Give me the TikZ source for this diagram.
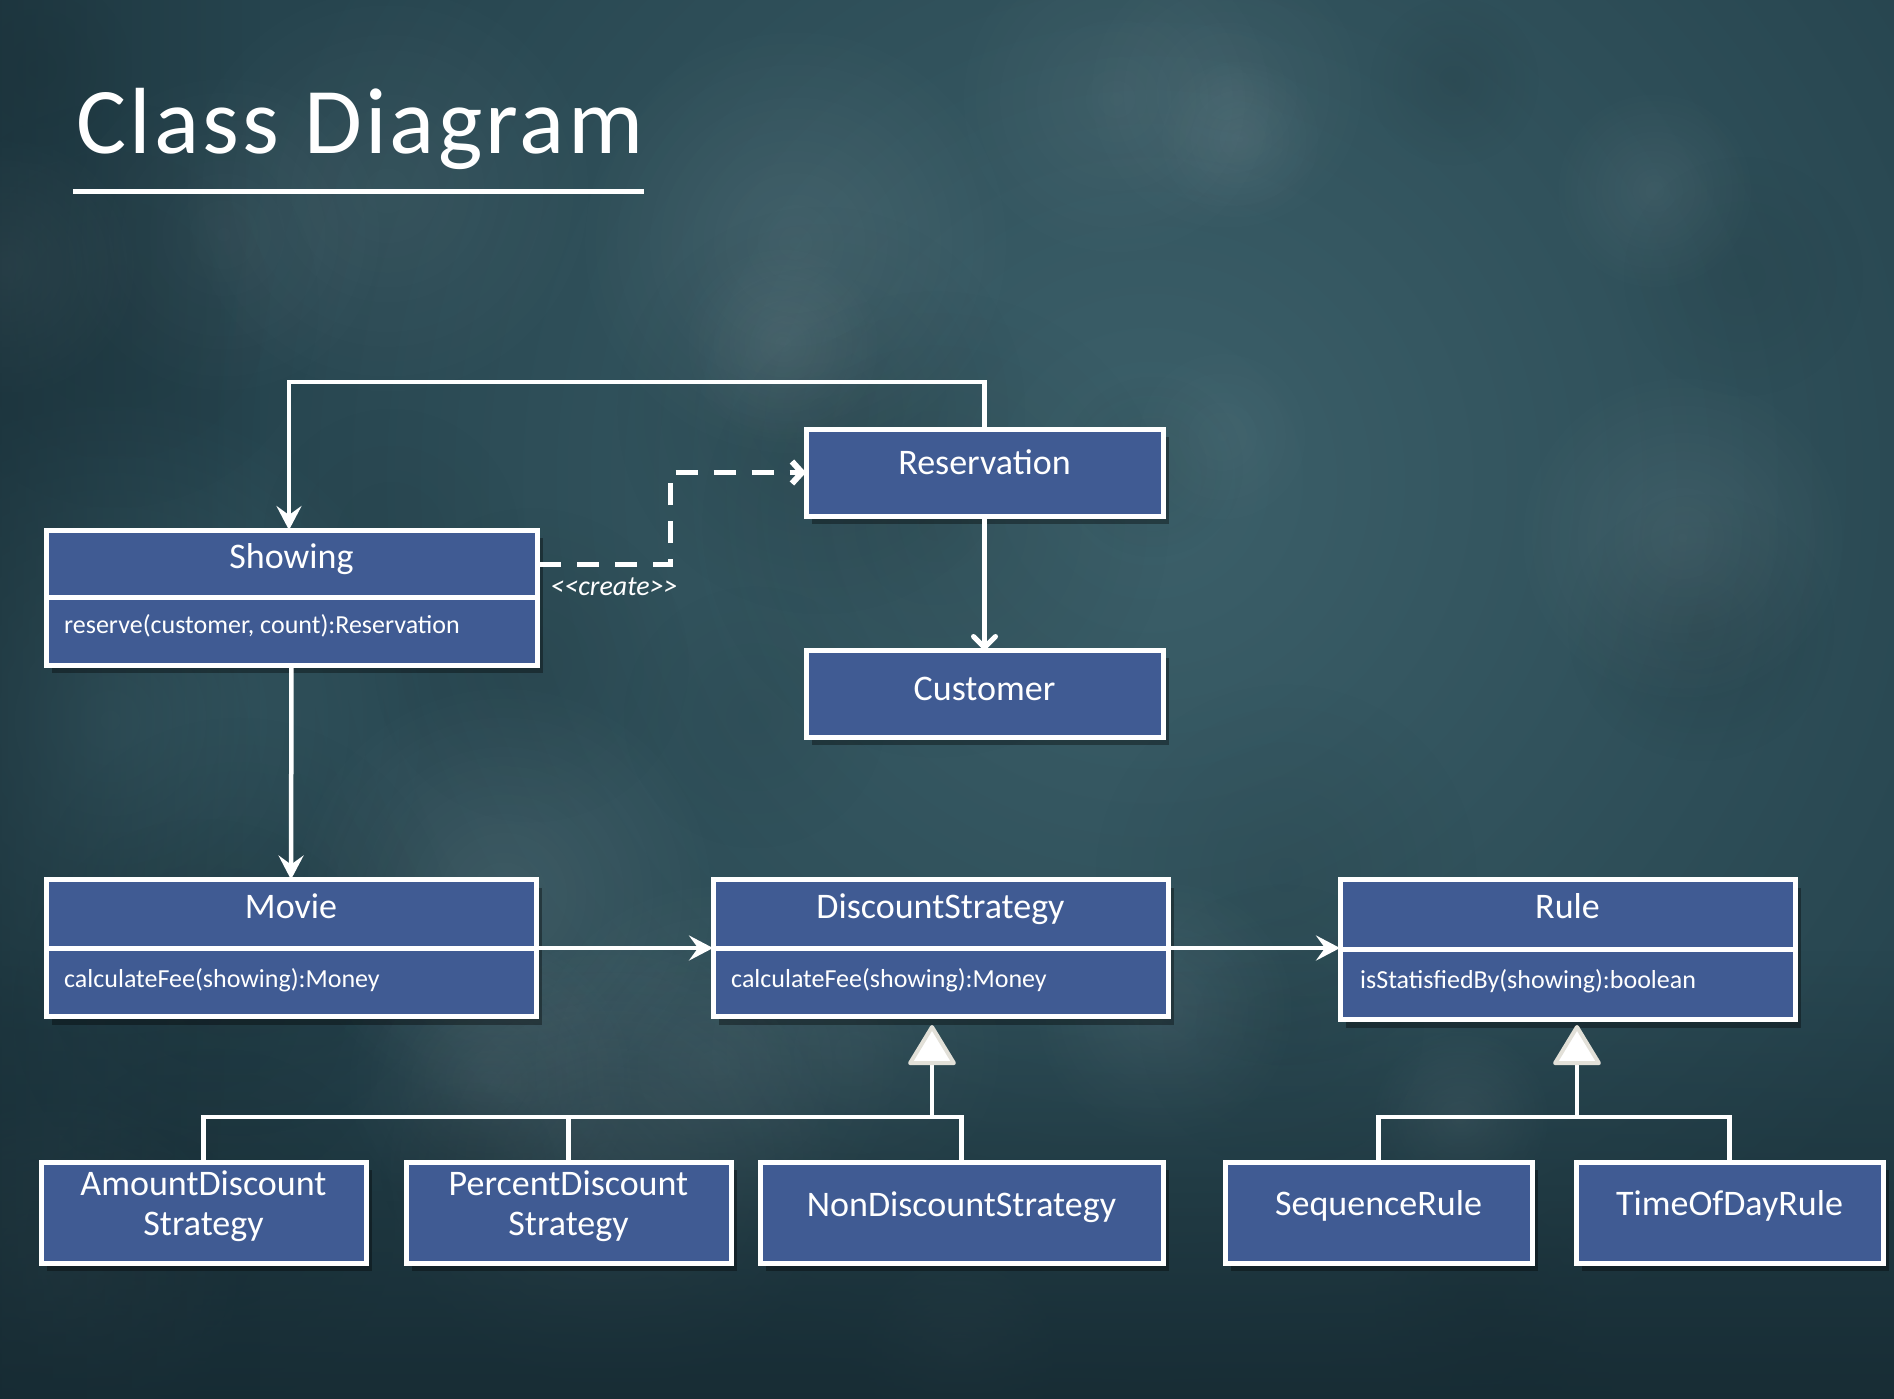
\documentclass[tikz,border=0pt]{standalone}
\usepackage{fontspec}
\setmainfont{Carlito}
\usetikzlibrary{arrows.meta,shadows,calc,fadings}
\definecolor{bgdark}{RGB}{22,42,50}
\definecolor{bgmid}{RGB}{38,68,78}
\definecolor{bglight}{RGB}{60,96,106}
\definecolor{boxblue}{RGB}{64,91,147}
\definecolor{inhfill}{RGB}{226,224,216}
\tikzfading[name=fadetotop, top color=transparent!100, bottom color=transparent!0]
\tikzfading[name=fadetoright, left color=transparent!0, right color=transparent!100]
\tikzfading[name=softblob, inner color=transparent!0, outer color=transparent!100]
\begin{document}
\begin{tikzpicture}[x=1pt,y=-1pt,
  umlbox/.style={draw=white, line width=5pt, fill=boxblue, inner sep=0pt, outer sep=0pt,
    drop shadow={shadow xshift=6pt, shadow yshift=-8pt, opacity=0.35, fill=black}},
  hdr/.style={text=white, font=\fontsize{36}{40}\selectfont, inner sep=0pt, anchor=base},
  meth/.style={text=white, font=\fontsize{26}{30}\selectfont, inner sep=0pt, anchor=base west},
  lbl/.style={text=white, font=\fontsize{28}{30}\selectfont\itshape, inner sep=0pt},
  divider/.style={draw=white, line width=5pt},
  conn/.style={draw=white, line width=4.5pt},
  arr/.style={conn, -{Stealth[length=24pt,width=25pt,inset=9pt]}},
  roundarr/.style={conn, -{Straight Barb[length=11pt,width=22pt,line width=5pt,round]}},
  dasharr/.style={draw=white, line width=5pt, dash pattern=on 22pt off 16pt,
    -{Straight Barb[length=10pt,width=22pt,line width=6pt]}},
  inh/.style={conn, -{Triangle[length=42pt,width=50pt,color=inhfill,fill=white,line width=4pt,round]}},
  titlestyle/.style={text=white, font=\fontsize{94}{100}\selectfont\addfontfeature{LetterSpace=3.5}, inner sep=0pt, anchor=base west}
]
\useasboundingbox (0,0) rectangle (1894,1398);
% background
\begin{scope}
  \clip (0,0) rectangle (1894,1398);
  \fill[bgmid] (-50,-50) rectangle (1950,1450);
  \shade[inner color=bglight, outer color=bgmid] (1150,480) circle[radius=950];
  \fill[bglight, opacity=0.7, path fading=softblob] (110,720) circle[radius=330];
  \pgfmathsetseed{7}
  \foreach \i in {1,...,40}{
    \pgfmathsetmacro{\bx}{rnd*1894}
    \pgfmathsetmacro{\by}{rnd*1398}
    \pgfmathsetmacro{\br}{80+rnd*160}
    \pgfmathsetmacro{\bo}{0.04+rnd*0.06}
    \ifodd\i
      \fill[white, opacity=\bo, path fading=softblob] (\bx,\by) circle[radius=\br];
    \else
      \fill[black, opacity=\bo, path fading=softblob] (\bx,\by) circle[radius=\br];
    \fi
  }
  \fill[bgdark, path fading=fadetotop] (-50,950) rectangle (1950,1450);
  \fill[bgdark, opacity=0.6, path fading=fadetoright] (-50,-50) rectangle (260,1450);
\end{scope}

% title
\node[titlestyle] (title) at (76,153) {Class Diagram};
\coordinate (ul1) at (73,191);
\coordinate (ul2) at (644,191);
\draw[white, line width=5pt] (ul1) -- (ul2);

% boxes
\node[umlbox, minimum width=357pt, minimum height=87pt] (res) at (984.5,472.5) {};
\node[hdr] (restxt) at (984.5,474) {Reservation};

\node[umlbox, minimum width=357pt, minimum height=87pt] (cust) at (984.5,693.5) {};
\node[hdr] (custtxt) at (984.5,700) {Customer};

\node[umlbox, minimum width=491pt, minimum height=135pt] (showing) at (291.5,597.5) {};
\draw[divider] (showing.west) -- (showing.east);
\node[hdr] (showtxt) at (291.5,568) {Showing};
\node[meth] (showm) at (64,633) {reserve(customer, count):Reservation};

\node[umlbox, minimum width=490pt, minimum height=137pt] (movie) at (291,948) {};
\draw[divider] (movie.west) -- (movie.east);
\node[hdr] (movietxt) at (291,918) {Movie};
\node[meth] (moviem) at (64,987) {calculateFee(showing):Money};

\node[umlbox, minimum width=455pt, minimum height=137pt] (disc) at (940.5,948) {};
\draw[divider] (disc.west) -- (disc.east);
\node[hdr] (disctxt) at (940.5,918) {DiscountStrategy};
\node[meth] (discm) at (731,987) {calculateFee(showing):Money};

\node[umlbox, minimum width=455pt, minimum height=140pt] (rule) at (1567.5,949.5) {};
\draw[divider] (rule.west) -- (rule.east);
\node[hdr] (ruletxt) at (1567.5,918) {Rule};
\node[meth] (rulem) at (1360,988) {isStatisfiedBy(showing):boolean};

\node[umlbox, minimum width=325pt, minimum height=101pt] (amount) at (203.5,1212.5) {};
\node[hdr] (amount1) at (203.5,1195) {AmountDiscount};
\node[hdr] (amount2) at (203.5,1235) {Strategy};

\node[umlbox, minimum width=325pt, minimum height=101pt] (percent) at (568.5,1212.5) {};
\node[hdr] (percent1) at (568.5,1195) {PercentDiscount};
\node[hdr] (percent2) at (568.5,1235) {Strategy};

\node[umlbox, minimum width=403pt, minimum height=101pt] (nondisc) at (961.5,1212.5) {};
\node[hdr] (nondisctxt) at (961.5,1216) {NonDiscountStrategy};

\node[umlbox, minimum width=307pt, minimum height=101pt] (seq) at (1378.5,1212.5) {};
\node[hdr] (seqtxt) at (1378.5,1215) {SequenceRule};

\node[umlbox, minimum width=307pt, minimum height=101pt] (tod) at (1729.5,1212.5) {};
\node[hdr] (todtxt) at (1729.5,1215) {TimeOfDayRule};

% connectors
\coordinate (topr) at (984.5,382);
\coordinate (topl) at (289,382);
\draw[arr] (res.north) -- (topr) -- (topl) -- (topl |- showing.north);

\coordinate (dstart) at (539,564);
\coordinate (dbend) at (670,564);
\draw[dasharr] (dstart) -- (dbend) |- (res.west);
\node[lbl] (create) at (614,587) {<\kern0pt<create>\kern0pt>};

\draw[roundarr] (res.south) -- (cust.north);
\draw[arr] (showing.south) -- (movie.north);
\draw[arr] (movie.east) -- (disc.west);
\draw[arr] (disc.east) -- (disc.east -| rule.west);

% generalisations
\coordinate (dj) at (932,1117);
\coordinate (dtip) at (932,1025);
\draw[conn] (amount.north) -- (amount.north |- dj) -- (nondisc.north |- dj) -- (nondisc.north);
\draw[conn] (percent.north) -- (percent.north |- dj);
\draw[inh] (dj) -- (dtip);

\coordinate (rj) at (1577,1117);
\coordinate (rtip) at (1577,1025);
\draw[conn] (seq.north) -- (seq.north |- rj) -- (tod.north |- rj) -- (tod.north);
\draw[inh] (rj) -- (rtip);
\end{tikzpicture}
\end{document}
